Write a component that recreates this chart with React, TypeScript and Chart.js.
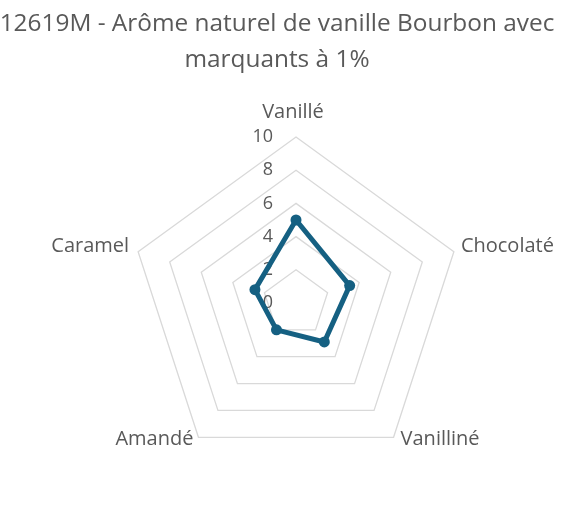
import React, { useEffect, useRef } from "react";
import { Chart, registerables, Plugin } from "chart.js";

Chart.register(...registerables);

const titleLines = ["12619M - Arôme naturel de vanille Bourbon avec", "marquants à 1%"];
const axisLabels = ["Vanillé", "Chocolaté", "Vanilliné", "Amandé", "Caramel"];
const scores = [5.0, 3.4, 2.9, 2.0, 2.6];
const scaleMin = 0;
const scaleMax = 10;
const scaleStep = 2;

const TEXT = "#595959";
const GRID = "#d9d9d9";
const LINE = "#156082";
const FONT = "'Open Sans', sans-serif";

// title, axis names and tick numbers drawn by hand so they sit like in Excel
const labelsPlugin: Plugin<"radar"> = {
    id: "excelLabels",
    beforeDatasetsDraw(chart) {
        const { ctx } = chart;
        const scale: any = chart.scales.r;
        ctx.save();
        ctx.fillStyle = TEXT;
        ctx.font = `18px ${FONT}`;
        ctx.textAlign = "right";
        ctx.textBaseline = "middle";
        scale.ticks.forEach((t: any) => {
            const p = scale.getPointPositionForValue(0, t.value);
            ctx.fillText(String(t.value), p.x - 23, p.y);
        });
        ctx.restore();
    },
    afterDraw(chart) {
        const { ctx } = chart;
        const scale: any = chart.scales.r;
        ctx.save();
        ctx.fillStyle = TEXT;

        ctx.font = `24.4px ${FONT}`;
        ctx.textAlign = "center";
        ctx.textBaseline = "alphabetic";
        ctx.fillText(titleLines[0], 277, 31);
        ctx.fillText(titleLines[1], 277, 66.5);

        ctx.font = `20px ${FONT}`;
        axisLabels.forEach((label, i) => {
            const v = scale.getPointPosition(i, scale.drawingArea);
            const dx = v.x - scale.xCenter;
            if (Math.abs(dx) < 1) {
                ctx.textAlign = "center";
                ctx.textBaseline = "alphabetic";
                ctx.fillText(label, v.x - 3, v.y - 19);
                return;
            }
            const upper = v.y < scale.yCenter;
            ctx.textBaseline = "middle";
            ctx.textAlign = dx > 0 ? "left" : "right";
            const x = dx > 0 ? v.x + 7 : v.x - (upper ? 9 : 5);
            ctx.fillText(label, x, v.y + (upper ? -5 : 2));
        });
        ctx.restore();
    },
};

const App: React.FC = () => {
    const canvasRef = useRef<HTMLCanvasElement>(null!);

    useEffect(() => {
        const chart = new Chart(canvasRef.current, {
            type: "radar",
            data: {
                labels: axisLabels,
                datasets: [
                    {
                        data: scores,
                        borderColor: LINE,
                        backgroundColor: "transparent",
                        borderWidth: 5,
                        pointRadius: 5.5,
                        pointBackgroundColor: LINE,
                        pointBorderColor: LINE,
                        pointBorderWidth: 0,
                        fill: false,
                    },
                ],
            },
            options: {
                animation: false,
                responsive: true,
                maintainAspectRatio: false,
                layout: { padding: { top: 137, bottom: 40, left: 130, right: 123 } },
                plugins: {
                    legend: { display: false },
                    title: { display: false },
                    tooltip: { enabled: false },
                },
                scales: {
                    r: {
                        min: scaleMin,
                        max: scaleMax,
                        ticks: { stepSize: scaleStep, display: false },
                        grid: { color: GRID, lineWidth: 1.3 },
                        angleLines: { display: false },
                        pointLabels: { display: false },
                    },
                },
            },
            plugins: [labelsPlugin],
        });
        return () => chart.destroy();
    }, []);

    return (
        <div style={{ position: "fixed", left: 0, top: 0, width: 585, height: 509, background: "#fff" }}>
            <canvas ref={canvasRef}></canvas>
        </div>
    );
};

export default App;
